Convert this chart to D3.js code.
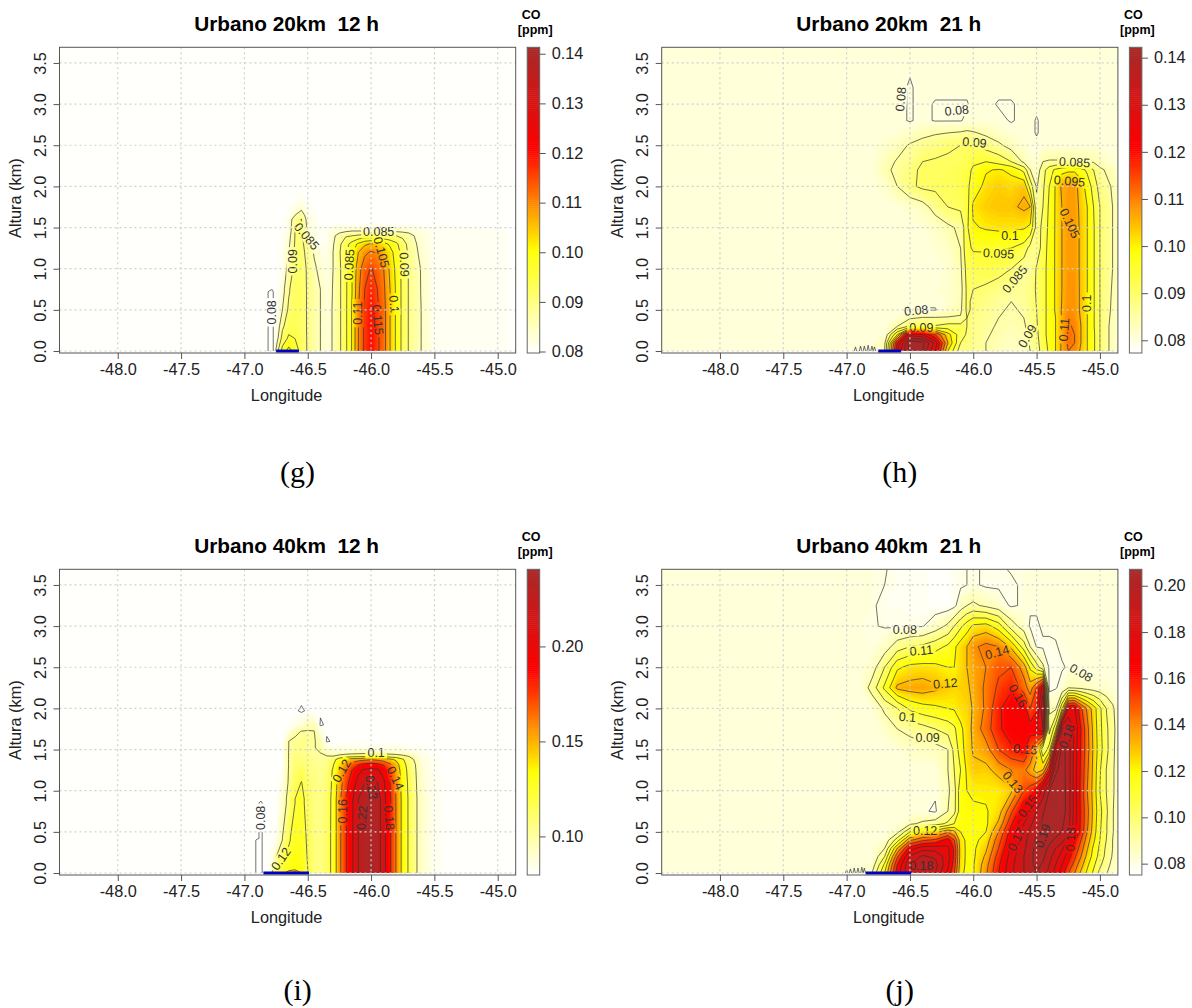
<!DOCTYPE html>
<html>
<head>
<meta charset="utf-8">
<script src="https://cdn.jsdelivr.net/npm/d3@7"></script>
<style>
  body { margin: 0; background: #fff; }
  text { font-family: "Liberation Sans", Arial, sans-serif; fill: #222; }
  .title { font-size: 20.8px; font-weight: bold; text-anchor: middle; white-space: pre; fill: #000; }
  .axlab { font-size: 16.3px; text-anchor: middle; }
  .unit { font-size: 12.5px; font-weight: bold; text-anchor: middle; fill: #000; }
  .letter { font-family: "Liberation Serif", serif; font-size: 30px; text-anchor: middle; fill: #000; }
  .clab { font-size: 12.5px; text-anchor: middle; dominant-baseline: central; fill: #333; }
  .tick text { font-size: 16.3px; font-family: "Liberation Sans", Arial, sans-serif; fill: #222; }
  .tick line { stroke: #555; }
  .grid line { stroke: #cfcfcf; stroke-width: 1.2; stroke-dasharray: 2 3; }
</style>
</head>
<body>
<svg id="fig" width="1192" height="1008"></svg>
<script>
// values are CO in ppb (ppm x 1000), rows go from the ground up
const lonTicks = [-48, -47.5, -47, -46.5, -46, -45.5, -45]
const altTicks = [0, 0.5, 1, 1.5, 2, 2.5, 3, 3.5]

// (g) Urbano 20km 12 h
const lonG = [-48.46, -46.82, -46.79, -46.78, -46.77, -46.74, -46.7, -46.65, -46.6, -46.55, -46.5, -46.45, -46.4, -46.35, -46.3, -46.25, -46.2, -46.15, -46.1, -46.05, -46, -45.95, -45.9, -45.85, -45.8, -45.75, -45.7, -45.65, -45.6, -45.5, -44.84]
const altG = [0, 0.15, 0.3, 0.5, 0.72, 0.75, 1, 1.2, 1.3, 1.4, 1.45, 1.5, 1.55, 1.6, 1.65, 1.75, 1.85, 1.95, 3.69]
const coG = [
  [80.3, 80.3, 79, 79, 80.3, 89, 97, 102, 98, 93, 89.5, 87, 85, 82.5, 85.5, 89, 94, 100.5, 110, 116, 120, 116, 112, 105, 99, 93.5, 89.5, 87, 84.8, 81, 80.3],
  [80.3, 80.3, 79, 79, 80.3, 84, 92, 96, 95, 92.5, 89.5, 87, 85, 82.5, 85.5, 89, 94, 100.5, 110, 116, 120, 116, 112, 105, 99, 93.5, 89.5, 87, 84.8, 81, 80.3],
  [80.3, 80.3, 79, 79, 80.3, 82, 89, 93, 93.5, 92, 89.5, 87, 85, 82.5, 85.5, 89, 94, 100.5, 110, 116, 120, 116, 112, 105, 99, 93.5, 89.5, 87, 84.8, 81, 80.3],
  [80.3, 80.3, 79, 79, 80.3, 81, 85, 91, 93, 92, 89.5, 87, 85, 82.5, 85.5, 89, 94, 100.5, 110, 116, 119.5, 116, 112, 105, 99, 93.5, 89.5, 87, 84.8, 81, 80.3],
  [80.3, 80.3, 79, 79, 80.3, 80.3, 83, 89.5, 92.5, 92, 89.5, 87, 85, 82.3, 85.3, 89, 94, 100, 109, 115, 118, 115, 111, 105, 99, 93.5, 89.5, 87, 84.6, 81, 80.3],
  [80.3, 80.3, 80.3, 80.3, 80.3, 80.3, 83, 89.5, 92.5, 92, 89.5, 87, 85, 82.3, 85.3, 89, 94, 100, 109, 115, 118, 115, 111, 105, 99, 93.5, 89.5, 87, 84.6, 81, 80.3],
  [80.3, 80.3, 80.3, 80.3, 80.3, 80.3, 81, 87, 91.5, 91.5, 89.5, 86, 83.5, 82, 85, 89, 94, 100, 108, 113, 115.5, 113, 110, 104, 98.5, 93.5, 89.5, 87, 84.5, 81, 80.3],
  [80.3, 80.3, 80.3, 80.3, 80.3, 80.3, 80.8, 85, 91, 91, 89, 84.5, 82.5, 81.5, 85, 89.5, 94, 99, 105, 109, 110.5, 109.5, 106, 102, 97.5, 93, 89, 86, 83.5, 81, 80.3],
  [80.3, 80.3, 80.3, 80.3, 80.3, 80.3, 80.5, 84, 90.5, 91, 88, 83, 81, 81, 84.5, 89, 93, 97, 101, 104, 105.5, 104, 102, 99, 96, 92, 88.5, 85.5, 83, 81, 80.3],
  [80.3, 80.3, 80.3, 80.3, 80.3, 80.3, 80.3, 83, 90.2, 90.5, 86, 82, 80.8, 81, 84, 87, 89.5, 90, 91, 92, 92, 92, 91, 90.5, 90, 89, 87, 84.5, 82.5, 81, 80.3],
  [80.3, 80.3, 80.3, 80.3, 80.3, 80.3, 80.3, 82, 90.1, 90.3, 85, 81.5, 80.5, 81, 83, 84, 85, 85.5, 85.5, 85.5, 85.5, 85.5, 85.5, 85.5, 85, 84.5, 84, 83, 82, 81, 80.3],
  [80.3, 80.3, 80.3, 80.3, 80.3, 80.3, 80.3, 81.5, 90, 90.2, 84, 81.5, 80.3, 81, 82, 82, 82.5, 82.5, 82.5, 82.5, 82.5, 82.5, 82.5, 82.5, 82.5, 82, 82, 81.5, 81, 80.5, 80.3],
  [80.3, 80.3, 80.3, 80.3, 80.3, 80.3, 80.3, 81.5, 89.7, 90.2, 83.5, 81, 80.3, 80.3, 80.3, 80.3, 80.3, 80.3, 80.3, 80.3, 80.3, 80.3, 80.3, 80.3, 80.3, 80.3, 80.3, 80.3, 80.3, 80.3, 80.3],
  [80.3, 80.3, 80.3, 80.3, 80.3, 80.3, 80.3, 81, 89, 90.1, 83, 80.8, 80.3, 80.3, 80.3, 80.3, 80.3, 80.3, 80.3, 80.3, 80.3, 80.3, 80.3, 80.3, 80.3, 80.3, 80.3, 80.3, 80.3, 80.3, 80.3],
  [80.3, 80.3, 80.3, 80.3, 80.3, 80.3, 80.3, 80.5, 85, 88, 82, 80.5, 80.3, 80.3, 80.3, 80.3, 80.3, 80.3, 80.3, 80.3, 80.3, 80.3, 80.3, 80.3, 80.3, 80.3, 80.3, 80.3, 80.3, 80.3, 80.3],
  [80.3, 80.3, 80.3, 80.3, 80.3, 80.3, 80.3, 80.3, 81.5, 83, 81, 80.3, 80.3, 80.3, 80.3, 80.3, 80.3, 80.3, 80.3, 80.3, 80.3, 80.3, 80.3, 80.3, 80.3, 80.3, 80.3, 80.3, 80.3, 80.3, 80.3],
  [80.3, 80.3, 80.3, 80.3, 80.3, 80.3, 80.3, 80.3, 80.3, 81, 80.3, 80.3, 80.3, 80.3, 80.3, 80.3, 80.3, 80.3, 80.3, 80.3, 80.3, 80.3, 80.3, 80.3, 80.3, 80.3, 80.3, 80.3, 80.3, 80.3, 80.3],
  [80.3, 80.3, 80.3, 80.3, 80.3, 80.3, 80.3, 80.3, 80.3, 80.3, 80.3, 80.3, 80.3, 80.3, 80.3, 80.3, 80.3, 80.3, 80.3, 80.3, 80.3, 80.3, 80.3, 80.3, 80.3, 80.3, 80.3, 80.3, 80.3, 80.3, 80.3],
  [80.3, 80.3, 80.3, 80.3, 80.3, 80.3, 80.3, 80.3, 80.3, 80.3, 80.3, 80.3, 80.3, 80.3, 80.3, 80.3, 80.3, 80.3, 80.3, 80.3, 80.3, 80.3, 80.3, 80.3, 80.3, 80.3, 80.3, 80.3, 80.3, 80.3, 80.3]
]
const levelsG = [80, 85, 90, 95, 100, 105, 110, 115]
const labelsG = [
  ['0.085', -45.94, 1.44, 0], ['0.085', -46.51, 1.39, 50], ['0.09', -46.62, 1.09, -90], ['0.08', -46.78, 0.47, -90],
  ['0.085', -46.17, 1.05, -87], ['0.09', -45.74, 1.05, 88], ['0.105', -45.92, 1.2, 75], ['0.11', -46.1, 0.46, -90],
  ['0.115', -45.95, 0.38, 85], ['0.1', -45.82, 0.57, 85]
]

// (h) Urbano 20km 21 h
const lonH = [-48.46, -46.8, -46.7, -46.6, -46.5, -46.4, -46.3, -46.2, -46.1, -46.05, -46, -45.9, -45.8, -45.7, -45.6, -45.55, -45.5, -45.45, -45.4, -45.35, -45.3, -45.25, -45.2, -45.15, -45.1, -45.05, -45, -44.9, -44.84]
const altH = [0, 0.1, 0.2, 0.3, 0.4, 0.5, 0.6, 0.75, 1, 1.25, 1.5, 1.75, 2, 2.2, 2.3, 2.5, 2.65, 2.8, 3, 3.2, 3.69]
const coH = [
  [80.6, 80.6, 85, 125, 142, 140, 125, 100, 87, 88, 87, 85, 83.5, 82, 83, 85, 88, 92, 96, 100, 106, 110, 109, 104, 100, 96, 90, 83, 80.8],
  [80.6, 80.6, 84, 120, 143, 142, 128, 105, 90, 89, 87, 85, 83.5, 82.5, 83.5, 85.5, 88.5, 92.5, 96.5, 100, 106, 111, 110, 105, 100, 96, 90, 83, 80.8],
  [80.6, 80.6, 81, 100, 128, 125, 115, 102, 92, 89.5, 87.5, 85.5, 84, 83, 84, 86, 89, 93, 97, 100, 106, 111.5, 110, 105, 100, 96, 90, 83, 80.8],
  [80.6, 80.6, 80.6, 85, 91, 91, 90.5, 92, 92, 90, 87.5, 86, 84.5, 83.5, 84.5, 86.5, 89.5, 93, 97, 100, 106, 110.5, 109.5, 105, 100, 95.5, 90, 83, 80.8],
  [80.6, 80.6, 80.6, 81, 84.5, 85.5, 85.5, 85.5, 85.5, 90, 87.5, 86.5, 85, 84, 85, 87, 89.8, 93, 97, 100, 105.5, 109.5, 108.5, 104.5, 100, 95.5, 90, 83.5, 80.8],
  [80.6, 80.6, 80.6, 80.6, 79.8, 79.8, 79.8, 82, 84, 91, 89, 87, 85.5, 84.5, 85.5, 87.5, 90, 93, 97, 100.5, 105.5, 108.5, 108, 104, 100, 95.5, 90, 84, 80.8],
  [80.6, 80.6, 80.6, 80.6, 80.6, 80.6, 80.6, 81, 83.5, 91, 89, 87.5, 86, 85, 85.8, 87.8, 90.2, 93, 97, 100.5, 105.2, 108.2, 108, 104, 100, 95.5, 90, 84.2, 80.8],
  [80.6, 80.6, 80.6, 80.6, 80.6, 80.6, 80.6, 81.5, 83, 91, 90, 89, 87.5, 86.5, 86.5, 88, 90.5, 93, 97, 100.5, 105, 108, 108, 104, 100, 95.5, 90, 84.5, 80.8],
  [80.6, 80.6, 80.6, 80.6, 80.6, 80.6, 80.6, 81, 84, 92, 92.5, 93, 92, 90, 86.5, 85.5, 90.5, 93, 97, 100.5, 105, 107.5, 107.5, 104, 100, 95.5, 90, 85, 80.8],
  [80.6, 80.6, 80.6, 80.6, 80.6, 80.6, 81, 82, 85, 94, 95.5, 95.5, 95.2, 95, 93, 88, 87, 92, 97, 100.5, 105, 107.5, 107.5, 104, 100, 95.5, 90, 85, 80.8],
  [80.6, 80.6, 80.6, 80.6, 80.6, 80.8, 82, 84, 86, 94, 99.5, 100.5, 101, 101, 100.5, 99, 88, 91, 96.5, 100.5, 105, 107.5, 107.5, 104, 100, 95.5, 90, 85, 80.8],
  [80.6, 80.6, 80.6, 80.6, 81.5, 83, 87, 90, 91, 93, 101, 103, 104, 104, 106, 105, 86, 90, 96, 100.5, 105, 107.5, 107.5, 103.5, 100, 95, 90, 85, 80.8],
  [80.6, 80.6, 81.5, 85, 89, 91, 91, 91.5, 92, 94, 97, 101.5, 103, 102, 104, 93, 84.5, 89, 95, 100.5, 106, 107, 107, 102.5, 98, 93, 88, 84.5, 80.8],
  [80.6, 80.6, 84, 86, 88.5, 91, 91, 91, 92, 93, 96, 99.5, 100.5, 99, 93.5, 85, 82, 88, 93, 96, 98, 99, 99, 97, 94, 90, 86, 83, 80.6],
  [80.6, 80.6, 83, 85.5, 87, 90, 90.5, 90.5, 91, 92, 94, 95, 93, 90, 84, 81.5, 81, 85, 85.5, 85.5, 85.5, 85.5, 85, 85, 85, 84.5, 83, 81, 80.6],
  [80.6, 80.6, 81.5, 83, 85.5, 87, 88, 89.5, 90, 91, 90.5, 88, 86, 83, 81, 80.6, 80.6, 80.6, 80.6, 80.6, 80.6, 80.6, 80.6, 80.6, 80.6, 80.6, 80.6, 80.6, 80.6],
  [80.6, 80.6, 80.6, 81, 82, 83.5, 84.5, 85, 85.5, 86, 85.5, 84, 82, 81, 80.6, 80.6, 79.8, 80.6, 80.6, 80.6, 80.6, 80.6, 80.6, 80.6, 80.6, 80.6, 80.6, 80.6, 80.6],
  [80.6, 80.6, 80.6, 80.6, 79.8, 80.6, 79.8, 79.8, 79.8, 80.6, 80.6, 80.6, 80.6, 79.8, 80.6, 80.6, 79.8, 80.6, 80.6, 80.6, 80.6, 80.6, 80.6, 80.6, 80.6, 80.6, 80.6, 80.6, 80.6],
  [80.6, 80.6, 80.6, 80.6, 79.8, 80.6, 79.8, 79.8, 79.8, 79.8, 80.6, 80.6, 79.8, 79.8, 80.6, 80.6, 80.6, 80.6, 80.6, 80.6, 80.6, 80.6, 80.6, 80.6, 80.6, 80.6, 80.6, 80.6, 80.6],
  [80.6, 80.6, 80.6, 80.6, 79.8, 80.6, 80.6, 80.6, 80.6, 80.6, 80.6, 80.6, 80.6, 80.6, 80.6, 80.6, 80.6, 80.6, 80.6, 80.6, 80.6, 80.6, 80.6, 80.6, 80.6, 80.6, 80.6, 80.6, 80.6],
  [80.6, 80.6, 80.6, 80.6, 80.6, 80.6, 80.6, 80.6, 80.6, 80.6, 80.6, 80.6, 80.6, 80.6, 80.6, 80.6, 80.6, 80.6, 80.6, 80.6, 80.6, 80.6, 80.6, 80.6, 80.6, 80.6, 80.6, 80.6, 80.6]
]
const levelsH = [80, 85, 90, 95, 100, 105, 110, 115, 120, 125, 130, 135, 140]
const labelsH = [
  ['0.08', -46.57, 3.06, -85], ['0.08', -46.13, 2.92, -5], ['0.09', -45.99, 2.53, 5], ['0.085', -45.2, 2.29, 3],
  ['0.095', -45.24, 2.06, 5], ['0.105', -45.24, 1.55, 65], ['0.1', -45.71, 1.4, 0], ['0.095', -45.8, 1.18, 3],
  ['0.085', -45.67, 0.87, -50], ['0.09', -45.57, 0.18, -60], ['0.11', -45.28, 0.26, -85], ['0.1', -45.1, 0.58, -90],
  ['0.08', -46.45, 0.49, -5], ['0.09', -46.41, 0.28, 0]
]
// little teeth of the 0.08 line on the ground, longitude and height
const teethLonH = [-46.93, -46.89, -46.86, -46.83, -46.8, -46.78]
const teethAltH = [0.05, 0.06, 0.06, 0.07, 0.06, 0.05]

// (i) Urbano 40km 12 h
const lonI = [-48.46, -46.92, -46.9, -46.87, -46.85, -46.82, -46.8, -46.75, -46.7, -46.65, -46.6, -46.55, -46.5, -46.45, -46.4, -46.35, -46.3, -46.25, -46.2, -46.15, -46.1, -46.05, -46, -45.95, -45.9, -45.85, -45.8, -45.75, -45.7, -45.65, -45.6, -45.5, -45.4, -44.84]
const altI = [0, 0.05, 0.4, 0.42, 0.85, 0.9, 1.1, 1.25, 1.32, 1.38, 1.42, 1.46, 1.52, 1.6, 1.72, 1.8, 1.97, 2.1, 3.69]
const coI = [
  [81, 81, 79, 79, 81, 81, 90, 120, 130, 155, 170, 140, 120, 108, 106, 112, 125, 155, 178, 197, 220, 232, 237, 232, 207, 182, 158, 134, 117, 103, 91, 83, 81, 81],
  [81, 81, 79, 79, 81, 81, 84, 112, 123, 128, 132, 130, 120, 108, 106, 112, 125, 155, 178, 197, 220, 232, 237, 232, 207, 182, 158, 134, 117, 103, 91, 83, 81, 81],
  [81, 81, 79, 79, 81, 81, 81, 82, 100, 118, 126, 126, 118, 107, 106, 112, 125, 155, 178, 197, 220, 232, 237, 232, 207, 182, 158, 134, 117, 103, 91, 83, 81, 81],
  [81, 81, 81, 79, 81, 81, 81, 82, 100, 118, 126, 126, 118, 107, 106, 112, 125, 155, 178, 197, 220, 232, 237, 232, 207, 182, 158, 134, 117, 103, 91, 83, 81, 81],
  [81, 81, 81, 79, 81, 81, 81, 81, 90, 106, 120, 124, 115, 106, 105, 111, 125, 155, 178, 197, 220, 232, 237, 232, 207, 182, 158, 134, 117, 103, 91, 83, 81, 81],
  [81, 81, 81, 81, 81, 81, 81, 81, 90, 106, 120, 124, 115, 106, 105, 111, 125, 155, 178, 197, 220, 232, 237, 232, 207, 182, 158, 134, 117, 103, 91, 83, 81, 81],
  [81, 81, 81, 81, 81, 81, 81, 81, 84, 102, 114, 120.5, 112, 106, 104, 108, 124, 150, 172, 190, 208, 220, 222, 220, 203, 180, 156, 132, 116, 102, 90, 83, 81, 81],
  [81, 81, 81, 81, 81, 81, 81, 81, 82, 101, 110, 114, 108, 105, 103, 107, 122, 145, 165, 180, 195, 203, 205, 203, 193, 175, 152, 130, 114, 101, 89, 82, 81, 81],
  [81, 81, 81, 81, 81, 81, 81, 81, 81, 100.5, 108, 110, 107, 104, 102, 105, 118, 138, 155, 168, 178, 184, 186, 184, 176, 162, 147, 127, 112, 100, 88, 82, 81, 81],
  [81, 81, 81, 81, 81, 81, 81, 81, 81, 100.5, 107, 108, 106, 103, 101, 104, 112, 130, 141, 148, 152, 155, 158, 155, 150, 145, 136, 122, 108, 97, 87, 82, 81, 81],
  [81, 81, 81, 81, 81, 81, 81, 81, 81, 100.5, 106, 107, 105, 102, 100.5, 100.5, 100, 105, 110, 113, 114, 115, 115, 115, 113, 111, 108, 104, 99, 93, 86, 82, 81, 81],
  [81, 81, 81, 81, 81, 81, 81, 81, 81, 100.5, 105, 106, 104, 101, 100, 94, 92, 92, 93, 94, 95, 96, 96, 95, 94, 93, 92, 90, 88, 86, 84, 81, 81, 81],
  [81, 81, 81, 81, 81, 81, 81, 81, 81, 100, 104, 105, 103, 100.5, 98, 90, 84, 84, 84, 84, 84, 84, 84, 84, 84, 84, 84, 84, 83, 83, 82, 81, 81, 81],
  [81, 81, 81, 81, 81, 81, 81, 81, 81, 100, 102.5, 104, 103, 101, 96, 79, 81, 81, 81, 81, 81, 81, 81, 81, 81, 81, 81, 81, 81, 81, 81, 81, 81, 81],
  [81, 81, 81, 81, 81, 81, 81, 81, 81, 85, 97, 100.5, 101, 100.5, 87, 81, 81, 81, 81, 81, 81, 81, 81, 81, 81, 81, 81, 81, 81, 81, 81, 81, 81, 81],
  [81, 81, 81, 81, 81, 81, 81, 81, 81, 81, 84, 88, 94, 95, 79, 81, 81, 81, 81, 81, 81, 81, 81, 81, 81, 81, 81, 81, 81, 81, 81, 81, 81, 81],
  [81, 81, 81, 81, 81, 81, 81, 81, 81, 81, 81, 79, 81, 81, 81, 81, 81, 81, 81, 81, 81, 81, 81, 81, 81, 81, 81, 81, 81, 81, 81, 81, 81, 81],
  [81, 81, 81, 81, 81, 81, 81, 81, 81, 81, 81, 81, 81, 81, 81, 81, 81, 81, 81, 81, 81, 81, 81, 81, 81, 81, 81, 81, 81, 81, 81, 81, 81, 81],
  [81, 81, 81, 81, 81, 81, 81, 81, 81, 81, 81, 81, 81, 81, 81, 81, 81, 81, 81, 81, 81, 81, 81, 81, 81, 81, 81, 81, 81, 81, 81, 81, 81, 81]
]
const levelsI = [80, 100, 120, 140, 160, 180, 200, 220]
const labelsI = [
  ['0.08', -46.87, 0.67, -90], ['0.12', -46.71, 0.17, -55], ['0.1', -45.96, 1.46, 0], ['0.12', -46.23, 1.24, -60],
  ['0.14', -45.81, 1.15, 65], ['0.16', -46.22, 0.75, -90], ['0.22', -46.07, 0.67, -85], ['0.22', -46, 1.04, 80],
  ['0.18', -45.86, 0.67, 85]
]

// (j) Urbano 40km 21 h
const lonJ = [-48.46, -46.9, -46.8, -46.7, -46.6, -46.5, -46.4, -46.3, -46.2, -46.15, -46.1, -46.05, -46, -45.9, -45.8, -45.7, -45.6, -45.55, -45.5, -45.45, -45.4, -45.35, -45.3, -45.25, -45.2, -45.15, -45.1, -45.05, -45, -44.95, -44.9, -44.84]
const altJ = [0, 0.1, 0.2, 0.3, 0.4, 0.5, 0.6, 0.75, 1, 1.25, 1.5, 1.75, 2, 2.25, 2.5, 2.75, 3, 3.25, 3.5, 3.69]
const coJ = [
  [81, 81, 90, 120, 165, 190, 196, 190, 168, 150, 122, 118, 119, 138, 160, 178, 190, 197, 200, 197, 186, 177, 165, 150, 140, 128, 118, 108, 97, 91, 84, 81],
  [81, 81, 84, 112, 160, 190, 198, 194, 172, 155, 124, 118, 119, 136, 158, 177, 190, 198, 202, 199, 190, 180, 170, 158, 146, 134, 122, 112, 102, 94, 87, 81],
  [81, 81, 81, 100, 148, 182, 192, 188, 174, 158, 125, 118, 118, 132, 155, 175, 190, 198, 203, 202, 194, 184, 176, 165, 152, 140, 127, 116, 106, 97, 89, 81],
  [81, 81, 81, 90, 130, 165, 176, 176, 172, 158, 125, 118, 118, 128, 150, 172, 188, 196, 203, 204, 198, 190, 182, 170, 158, 145, 131, 118, 108, 98, 90, 81],
  [81, 81, 81, 83, 105, 138, 148, 152, 165, 150, 124, 118, 117, 124, 146, 168, 186, 195, 202, 205, 203, 198, 195, 180, 163, 150, 135, 122, 110, 100, 90, 81],
  [81, 81, 81, 81, 87, 110, 122, 126, 138, 132, 120, 118, 117, 120, 140, 165, 185, 192, 198, 204, 205, 204, 200, 194, 172, 157, 140, 125, 111, 101, 91, 81],
  [81, 81, 81, 81, 81, 88, 92, 95, 102, 110, 116, 118, 117, 118, 132, 158, 180, 188, 195, 202, 205, 205, 202, 194, 174, 158, 142, 126, 112, 101, 91, 81],
  [81, 81, 81, 81, 81, 81, 81, 79, 90, 97, 116, 119, 119, 119, 125, 148, 170, 180, 190, 199, 205, 206, 205, 196, 176, 158, 143, 127, 113, 102, 91, 81],
  [81, 81, 81, 81, 81, 81, 81, 81, 88, 96, 117, 120, 121, 122, 122, 128, 150, 155, 165, 185, 200, 206, 205, 196, 175, 157, 140, 126, 110, 100, 92, 81],
  [81, 81, 81, 81, 81, 81, 81, 81, 90, 100, 110, 122, 128, 127, 134, 140, 142, 135, 125, 130, 160, 198, 204, 196, 175, 158, 142, 127, 111, 100, 92, 81],
  [81, 81, 81, 81, 82, 85, 86, 86, 90, 103, 115, 125, 131, 136, 150, 158, 162, 150, 135, 100, 115, 175, 204, 196, 176, 159, 144, 128, 114, 103, 93, 81],
  [81, 81, 81, 84, 90, 93, 96, 100, 104, 108, 118, 124, 133, 145, 158, 166, 166, 165, 170, 180, 95, 118, 190, 194, 178, 160, 143, 127, 113, 102, 94, 81],
  [81, 81, 82, 92, 100, 112, 116, 118, 120, 121, 124, 126, 131, 142, 158, 167, 165, 150, 158, 190, 88, 88, 118, 170, 172, 152, 138, 125, 112, 100, 92, 81],
  [81, 81, 94, 112, 132, 134, 135, 132, 128, 126, 127, 128, 133, 142, 152, 158, 145, 135, 150, 175, 78, 79.5, 82, 90, 89, 88, 86, 85, 84, 83, 82, 81],
  [81, 81, 85, 100, 118, 123, 124, 123, 120, 120, 125, 130, 134, 140, 148, 150, 135, 118, 105, 92, 79, 78, 79.5, 80.5, 81, 81, 81, 81, 81, 81, 81, 81],
  [81, 81, 81, 85, 95, 100, 102, 106, 112, 118, 125, 130, 138, 143, 140, 128, 105, 90, 79.5, 79, 79, 79.5, 81, 81, 81, 81, 81, 81, 81, 81, 81, 81],
  [81, 81, 80.5, 79.5, 79, 79, 79.5, 85, 92, 100, 108, 115, 122, 124, 115, 95, 85, 79, 79, 81, 81, 81, 81, 81, 81, 81, 81, 81, 81, 81, 81, 81],
  [81, 81, 81, 78, 78, 77, 77, 76, 76, 78, 85, 90, 92, 88, 84, 79, 81, 81, 81, 81, 81, 81, 81, 81, 81, 81, 81, 81, 81, 81, 81, 81],
  [81, 81, 81, 80, 78, 77, 77, 76, 76, 78, 79, 80, 81, 79, 79, 79, 81, 81, 81, 81, 81, 81, 81, 81, 81, 81, 81, 81, 81, 81, 81, 81],
  [81, 81, 81, 80.5, 78, 77, 77, 76, 76, 78, 79, 80, 81, 79, 79, 80.5, 81, 81, 81, 81, 81, 81, 81, 81, 81, 81, 81, 81, 81, 81, 81, 81]
]
const levelsJ = [80, 90, 100, 110, 120, 130, 140, 150, 160, 170, 180, 190, 200]
const labelsJ = [
  ['0.08', -46.54, 2.95, 0], ['0.11', -46.41, 2.7, -5], ['0.12', -46.22, 2.3, -5], ['0.1', -46.52, 1.89, 5],
  ['0.09', -46.36, 1.64, 0], ['0.14', -45.81, 2.68, -15], ['0.16', -45.65, 2.15, 60], ['0.15', -45.59, 1.5, 5],
  ['0.13', -45.69, 1.1, 50], ['0.15', -45.57, 0.81, -55], ['0.17', -45.66, 0.41, -65], ['0.19', -45.45, 0.45, -70],
  ['0.18', -45.23, 0.41, -88], ['0.18', -46.41, 0.08, 0], ['0.12', -46.38, 0.51, 0], ['0.08', -45.15, 2.43, 30],
  ['0.18', -45.26, 1.66, -70]
]
const teethLonJ = [-47, -46.97, -46.94, -46.91, -46.88, -46.86]
const teethAltJ = [0.04, 0.05, 0.06, 0.06, 0.07, 0.06]

const panels = [
  { title: 'Urbano 20km  12 h', letter: '(g)', left: 59.5, top: 47.3, letterY: 435, lon: lonG, alt: altG, co: coG, levels: levelsG, labels: labelsG,
    zDomain: [79.7, 141.3], zTicks: [80, 90, 100, 110, 120, 130, 140], urban: [-46.75, -46.57], teethLon: [], teethAlt: [] },
  { title: 'Urbano 20km  21 h', letter: '(h)', left: 661.7, top: 47.3, letterY: 435, lon: lonH, alt: altH, co: coH, levels: levelsH, labels: labelsH,
    zDomain: [77.3, 142.2], zTicks: [80, 90, 100, 110, 120, 130, 140], urban: [-46.75, -46.57], teethLon: teethLonH, teethAlt: teethAltH },
  { title: 'Urbano 40km  12 h', letter: '(i)', left: 59.5, top: 569.3, letterY: 431, lon: lonI, alt: altI, co: coI, levels: levelsI, labels: labelsI,
    zDomain: [79.7, 240.6], zTicks: [100, 150, 200], urban: [-46.85, -46.49], teethLon: [], teethAlt: [] },
  { title: 'Urbano 40km  21 h', letter: '(j)', left: 661.7, top: 569.3, letterY: 431, lon: lonJ, alt: altJ, co: coJ, levels: levelsJ, labels: labelsJ,
    zDomain: [75.1, 207.1], zTicks: [80, 100, 120, 140, 160, 180, 200], urban: [-46.85, -46.49], teethLon: teethLonJ, teethAlt: teethAltJ }
]

const svg = d3.select('#fig')
const plotW = 456.2
const plotH = 305.7

panels.forEach(drawPanel)

function drawPanel (p, n) {
  let nx = p.lon.length
  let ny = p.alt.length
  p.co.forEach((row, i) => {
    if (row.length !== nx) throw new Error(p.letter + ' row ' + i + ' has ' + row.length + ' of ' + nx)
  })
  if (p.co.length !== ny) throw new Error(p.letter + ' rows ' + p.co.length + ' of ' + ny)

  let x = d3.scaleLinear().domain([-48.46, -44.858]).range([0, plotW])
  let y = d3.scaleLinear().domain([-0.024, 3.69]).range([plotH, 0])
  let zmin = p.zDomain[0]
  let zmax = p.zDomain[1]
  let r = zmax - zmin
  let color = d3.scaleLinear()
    .domain([zmin, zmin + r / 3, zmin + 2 * r / 3, zmax])
    .range(['white', 'yellow', 'red', 'brown'])
    .clamp(true)

  let g = svg.append('g').attr('transform', 'translate(' + p.left + ',' + p.top + ')')

  // grid index to pixel, d3.contours puts the value of cell i at i + 0.5
  let sx = d3.scaleLinear().domain(p.lon.map((d, i) => i + 0.5)).range(p.lon.map((d) => x(d))).clamp(true)
  let sy = d3.scaleLinear().domain(p.alt.map((d, i) => i + 0.5)).range(p.alt.map((d) => y(d))).clamp(true)
  let path = d3.geoPath(d3.geoTransform({
    point: function (a, b) { this.stream.point(sx(a), sy(b)) }
  }))

  let flat = p.co.flat()
  let contours = d3.contours().size([nx, ny])

  let clipId = 'clip' + n
  g.append('clipPath').attr('id', clipId).append('rect').attr('width', plotW).attr('height', plotH)

  let field = g.append('g').attr('clip-path', 'url(#' + clipId + ')')
  field.append('rect')
    .attr('width', plotW)
    .attr('height', y(0))
    .attr('fill', color(d3.min(flat)))

  // filled field as a stack of fine bands
  let step = r / 90
  let bands = d3.range(zmin, zmax, step)
  field.selectAll('path.band')
    .data(contours.thresholds(bands)(flat))
    .enter().append('path')
    .attr('class', 'band')
    .attr('d', path)
    .attr('fill', (d) => color(d.value + step / 2))

  // gaps in the lines under the contour labels
  let maskId = 'mask' + n
  let mask = g.append('mask').attr('id', maskId)
    .attr('maskUnits', 'userSpaceOnUse')
    .attr('x', 0).attr('y', 0).attr('width', plotW).attr('height', plotH)
  mask.append('rect').attr('width', plotW).attr('height', plotH).attr('fill', 'white')
  p.labels.forEach((l) => {
    let w = l[0].length * 6.6 + 2
    mask.append('rect')
      .attr('x', -w / 2).attr('y', -6).attr('width', w).attr('height', 12)
      .attr('transform', 'translate(' + x(l[1]) + ',' + y(l[2]) + ')rotate(' + l[3] + ')')
      .attr('fill', 'black')
  })

  // contour lines, leaving out the parts that run along the edge of the grid
  let onEdge = (q) => q[0] <= 0.5 || q[0] >= nx - 0.5 || q[1] <= 0.5 || q[1] >= ny - 0.5
  let line = d3.line().x((q) => sx(q[0])).y((q) => sy(q[1]))
  let lines = field.append('g').attr('mask', 'url(#' + maskId + ')')
  contours.thresholds(p.levels)(flat).forEach((c) => {
    c.coordinates.forEach((poly) => poly.forEach((ring) => {
      let parts = []
      let cur = []
      for (let i = 1; i < ring.length; i++) {
        if (onEdge(ring[i - 1]) && onEdge(ring[i])) {
          if (cur.length) parts.push(cur)
          cur = []
        } else {
          if (!cur.length) cur.push(ring[i - 1])
          cur.push(ring[i])
        }
      }
      if (cur.length) parts.push(cur)
      parts.forEach((part) => {
        lines.append('path')
          .attr('d', line(part))
          .attr('fill', 'none')
          .attr('stroke', '#333')
          .attr('stroke-width', 0.7)
      })
    }))
  })

  // teeth on the ground west of the urban area
  lines.selectAll('path.tooth')
    .data(p.teethLon)
    .enter().append('path')
    .attr('class', 'tooth')
    .attr('fill', 'none')
    .attr('stroke', '#333')
    .attr('stroke-width', 0.7)
    .attr('d', (d, i) => d3.line()([[x(d) - 1.2, y(0)], [x(d), y(p.teethAlt[i])], [x(d) + 1.2, y(0)]]))

  field.selectAll('text.clab')
    .data(p.labels)
    .enter().append('text')
    .attr('class', 'clab')
    .attr('transform', (l) => 'translate(' + x(l[1]) + ',' + y(l[2]) + ')rotate(' + l[3] + ')')
    .text((l) => l[0])

  // dotted grid
  let grid = g.append('g').attr('class', 'grid')
  grid.selectAll('line.v').data(lonTicks).enter().append('line')
    .attr('x1', (d) => x(d)).attr('x2', (d) => x(d)).attr('y1', 0).attr('y2', plotH)
  grid.selectAll('line.h').data(altTicks).enter().append('line')
    .attr('y1', (d) => y(d)).attr('y2', (d) => y(d)).attr('x1', 0).attr('x2', plotW)

  // urban area on the ground
  g.append('line')
    .attr('x1', x(p.urban[0])).attr('x2', x(p.urban[1]))
    .attr('y1', y(0)).attr('y2', y(0))
    .attr('stroke', '#0000cd')
    .attr('stroke-width', 3)

  g.append('rect')
    .attr('width', plotW).attr('height', plotH)
    .attr('fill', 'none').attr('stroke', '#555').attr('stroke-width', 1)

  // axes
  let ax = g.append('g')
    .attr('transform', 'translate(0,' + plotH + ')')
    .call(d3.axisBottom(x).tickValues(lonTicks).tickSize(6).tickPadding(4).tickFormat((d) => d.toFixed(1)))
  ax.select('.domain').remove()

  let ay = g.append('g')
    .call(d3.axisLeft(y).tickValues(altTicks).tickSize(6).tickFormat((d) => d.toFixed(1)))
  ay.select('.domain').remove()
  ay.selectAll('text')
    .attr('transform', 'translate(-13.5,0)rotate(-90)')
    .attr('x', 0).attr('y', 0).attr('dy', 0)
    .attr('text-anchor', 'middle')

  g.append('text').attr('class', 'axlab')
    .attr('x', plotW / 2 - 1).attr('y', 354)
    .text('Longitude')
  g.append('text').attr('class', 'axlab')
    .attr('transform', 'translate(-38.5,' + (plotH / 2 - 2) + ')rotate(-90)')
    .text('Altura (km)')
  g.append('text').attr('class', 'title')
    .attr('x', plotW / 2 - 1).attr('y', -16.5)
    .text(p.title)
  g.append('text').attr('class', 'letter')
    .attr('x', plotW / 2 + 10).attr('y', p.letterY)
    .text(p.letter)

  // colour bar
  let cbX = plotW + 11.5
  let cbW = 12.5
  let z = d3.scaleLinear().domain([zmin, zmax]).range([plotH, 0])
  let bar = g.append('g').attr('transform', 'translate(' + cbX + ',0)')
  let cells = d3.range(zmin, zmax, r / 150)
  bar.selectAll('rect')
    .data(cells)
    .enter().append('rect')
    .attr('y', (d) => z(d + r / 150))
    .attr('width', cbW)
    .attr('height', plotH / 150 + 0.5)
    .attr('fill', (d) => color(d))
  bar.append('rect')
    .attr('width', cbW).attr('height', plotH)
    .attr('fill', 'none').attr('stroke', '#666').attr('stroke-width', 1)
  let az = bar.append('g')
    .attr('transform', 'translate(' + cbW + ',0)')
    .call(d3.axisRight(z).tickValues(p.zTicks).tickSize(6).tickPadding(6).tickFormat((d) => (d / 1000).toFixed(2)))
  az.select('.domain').remove()

  g.append('text').attr('class', 'unit')
    .attr('x', cbX + 4).attr('y', -28.5)
    .text('CO')
  g.append('text').attr('class', 'unit')
    .attr('x', cbX + 8).attr('y', -13)
    .text('[ppm]')
}
</script>
</body>
</html>
